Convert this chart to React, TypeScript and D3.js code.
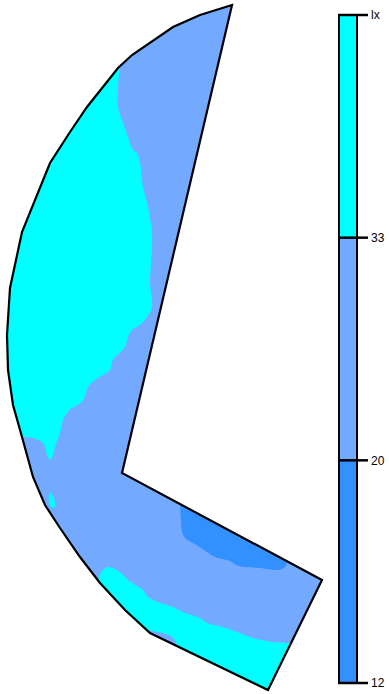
import React from "react";
import * as d3 from "d3";

const W = 389;
const H = 694;

type Pt = [number, number];

// Room outline (plan coordinates, metres)
const roomOutline: Pt[] = [
  [23.2, 0.5], [20.0, 1.5], [17.3, 2.7], [13.2, 5.5], [11.8, 6.8], [8.7, 10.7],
  [7.0, 13.2], [5.0, 16.3], [2.2, 23.2], [1.0, 28.8], [0.7, 33.5], [0.8, 37.0],
  [1.3, 40.5], [2.2, 43.7], [3.3, 47.7], [4.5, 50.5], [6.0, 52.8], [8.0, 55.7],
  [10.0, 58.3], [12.5, 61.0], [15.0, 63.3], [26.8, 69.0], [32.2, 58.0], [12.2, 47.3],
];

// Legend levels (lux), top to bottom
const legendLevels = ["lx", "33", "20", "12"];
// Zone bands between consecutive levels
const zoneBands = ["high", "mid", "low"];

// Isolux lines (metres). Each zone: the isoline inside the room + closing points beyond the walls.
const northHighIso: Pt[] = [
  [12.0, 6.8], [11.8, 8.7], [11.8, 10.7], [12.3, 12.3], [12.8, 13.7], [13.3, 15.0],
  [13.7, 15.3], [14.0, 16.3], [14.3, 18.7], [14.8, 20.7], [15.2, 23.3], [15.2, 25.0],
  [15.0, 28.3], [15.2, 30.7], [14.7, 31.7], [14.0, 32.5], [13.2, 33.0], [12.8, 33.7],
  [12.5, 34.7], [11.3, 36.0], [11.0, 37.0], [10.3, 37.5], [9.5, 38.0], [8.8, 38.7],
  [8.6, 39.3], [8.3, 40.0], [7.8, 40.5], [7.2, 40.8], [6.7, 41.3], [6.3, 42.0],
  [6.0, 43.3], [5.5, 44.7], [5.3, 45.5], [5.0, 46.0], [4.7, 45.5], [4.5, 44.7],
  [4.2, 44.2], [3.3, 43.8], [2.2, 43.7], [1.5, 43.6],
];
const northHighWrap: Pt[] = [[-1, 43.6], [-1, 5.0], [11.9, 5.0]];

// Small isolated pocket near the west wall
const westHighIso: Pt[] = [
  [5.0, 49.2], [5.3, 49.6], [5.5, 50.2], [5.5, 50.7], [5.1, 50.7], [4.9, 50.2],
  [4.9, 49.6], [5.0, 49.2],
];
const westHighWrap: Pt[] = [];

const southHighIso: Pt[] = [
  [9.8, 58.0], [10.2, 57.1], [10.8, 56.7], [11.5, 56.9], [12.2, 57.4], [12.8, 58.0],
  [13.5, 58.5], [14.2, 58.9], [14.8, 59.7], [16.0, 60.3], [17.3, 60.7], [18.5, 61.3],
  [20.0, 61.8], [20.7, 62.3], [22.3, 62.7], [23.7, 63.2], [25.3, 63.8], [27.3, 64.2],
  [29.0, 64.3], [30.5, 64.3],
];
const southHighWrap: Pt[] = [
  [30.5, 71.0], [17.8, 71.0], [17.8, 64.8], [17.5, 64.0], [17.1, 63.6], [16.3, 63.3],
  [15.3, 63.1], [14.7, 63.0], [13.5, 63.5], [8.0, 60.0], [8.5, 57.5],
];

const eastLowIso: Pt[] = [
  [18.0, 50.4], [18.1, 52.0], [18.2, 53.2], [18.6, 53.9], [19.3, 54.3], [19.8, 54.6],
  [20.7, 55.2], [21.5, 55.7], [23.0, 56.1], [23.6, 56.5], [24.5, 56.7], [26.0, 56.8],
  [27.7, 57.0], [28.4, 56.8], [28.7, 56.3], [28.8, 55.5],
];
const eastLowWrap: Pt[] = [[17.8, 49.0]];

const zones = [
  { band: "high", iso: northHighIso, wrap: northHighWrap },
  { band: "high", iso: westHighIso, wrap: westHighWrap },
  { band: "high", iso: southHighIso, wrap: southHighWrap },
  { band: "low", iso: eastLowIso, wrap: eastLowWrap },
];

const bandColor: Record<string, string> = {
  high: "#00ffff",
  mid: "#73aaff",
  low: "#3390ff",
};

export default function App() {
  const x = d3.scaleLinear().domain([0, 33]).range([0, 330]);
  const y = d3.scaleLinear().domain([0, 69.4]).range([0, 694]);

  const roomPath =
    d3
      .line<Pt>()
      .x((d) => x(d[0]))
      .y((d) => y(d[1]))(roomOutline)! + "Z";

  const isoLine = d3
    .line<Pt>()
    .x((d) => x(d[0]))
    .y((d) => y(d[1]))
    .curve(d3.curveCatmullRom.alpha(0.5));

  const zonePath = (iso: Pt[], wrap: Pt[]) =>
    isoLine(iso)! + wrap.map((p) => `L${x(p[0])},${y(p[1])}`).join("") + "Z";

  const legendY = d3.scalePoint<string>().domain(legendLevels).range([15, 683]);
  const barX = 339;
  const barW = 18;

  return (
    <svg
      width={W}
      height={H}
      style={{ position: "absolute", left: 0, top: 0, background: "#fff" }}
      fontFamily="'Liberation Sans', Arial, sans-serif"
    >
      <defs>
        <clipPath id="room-clip">
          <path d={roomPath} />
        </clipPath>
      </defs>

      <path d={roomPath} fill={bandColor.mid} />
      <g clipPath="url(#room-clip)">
        {zones.map((z, i) => (
          <path key={i} d={zonePath(z.iso, z.wrap)} fill={bandColor[z.band]} />
        ))}
      </g>
      <path d={roomPath} fill="none" stroke="#000" strokeWidth={2.2} strokeLinejoin="miter" />

      {/* colour legend */}
      <g>
        {zoneBands.map((b, i) => (
          <rect
            key={b}
            x={barX}
            y={legendY(legendLevels[i])!}
            width={barW}
            height={legendY(legendLevels[i + 1])! - legendY(legendLevels[i])!}
            fill={bandColor[b]}
          />
        ))}
        <rect
          x={barX}
          y={legendY(legendLevels[0])!}
          width={barW}
          height={legendY(legendLevels[3])! - legendY(legendLevels[0])!}
          fill="none"
          stroke="#000"
          strokeWidth={2}
        />
        {legendLevels.map((l) => (
          <g key={l}>
            <line
              x1={barX - 1}
              x2={368}
              y1={legendY(l)!}
              y2={legendY(l)!}
              stroke="#000"
              strokeWidth={2.5}
            />
            <text x={371} y={legendY(l)!} dy="0.35em" fontSize={12} fill="#000">
              {l}
            </text>
          </g>
        ))}
      </g>
    </svg>
  );
}
